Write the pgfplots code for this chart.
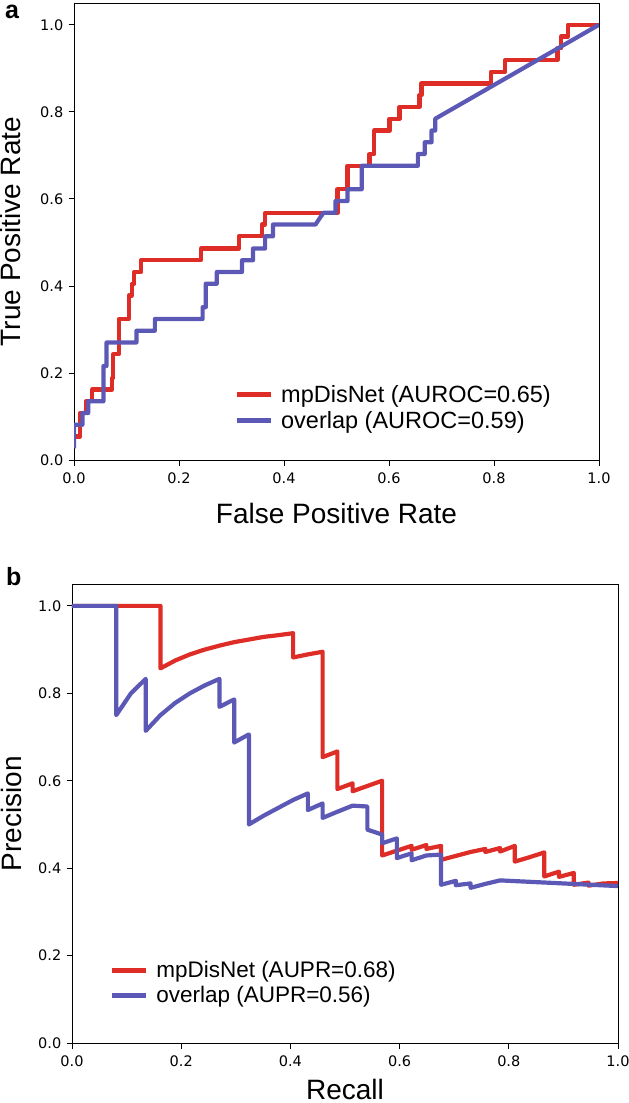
\documentclass[border=0pt]{standalone}
\usepackage{fontspec}
\setmainfont{Liberation Sans}
\newfontfamily\dejavu{DejaVu Sans}
\usepackage{pgfplots}
\pgfplotsset{compat=1.18}
\definecolor{cred}{RGB}{222,45,38}
\definecolor{cblue}{RGB}{92,88,182}

\begin{document}
\begin{tikzpicture}
\path[use as bounding box] (0pt,0pt) rectangle (629pt,-1103pt);
\pgfplotsset{
 myax/.style={scale only axis, xmin=0, xmax=1, ymin=0, ymax=1.05,
  xtick={0,0.2,0.4,0.6,0.8,1.0}, ytick={0,0.2,0.4,0.6,0.8,1.0},
  xtick pos=left, ytick pos=left,
  tick align=outside, major tick length=5.5pt,
  tick style={black, line width=0.8pt},
  axis line style={line width=0.8pt},
  /pgf/number format/fixed, /pgf/number format/fixed zerofill,
  /pgf/number format/precision=1, /pgf/number format/assume math mode=true,
  tick label style={font=\dejavu\fontsize{14.5}{16}\selectfont},
  xticklabel style={anchor=north, inner sep=0pt, yshift=-7pt},
  yticklabel style={anchor=east, inner sep=0pt, xshift=-5pt},
  label style={font=\fontsize{28}{32}\selectfont},
  legend style={draw=none, fill=none,
    cells={anchor=west}, nodes={inner sep=0pt}, column sep=8pt, row sep=7.5pt},
  legend image code/.code={\draw[##1, line width=5pt] (0pt,0pt) -- (34pt,0pt);},
  every axis plot/.append style={line width=4.2pt, line join=round},
 }
}

\begin{axis}[myax, at={(74pt,-460pt)}, anchor=south west, width=525pt, height=457pt,
  xlabel={False Positive Rate}, ylabel={True Positive Rate},
  xlabel style={at={(axis description cs:0.5,0)}, anchor=base, yshift=-63pt},
  ylabel style={at={(axis description cs:-0.101,0.5)}, anchor=base},
  legend style={at={(axis description cs:0.299,0.168)}, anchor=north west, font=\fontsize{23.5}{27}\selectfont}]
\addplot[cred] coordinates {(0,0.027)(0,0.054)(0.012,0.054)(0.012,0.108)(0.023,0.108)(0.023,0.135)(0.035,0.135)(0.035,0.162)(0.073,0.162)(0.073,0.189)(0.075,0.189)(0.075,0.243)(0.085,0.243)(0.085,0.324)(0.104,0.324)(0.104,0.378)(0.110,0.378)(0.110,0.405)(0.115,0.405)(0.115,0.432)(0.128,0.432)(0.128,0.459)(0.242,0.459)(0.242,0.486)(0.314,0.486)(0.314,0.514)(0.358,0.514)(0.358,0.541)(0.364,0.541)(0.364,0.568)(0.502,0.568)(0.502,0.622)(0.521,0.622)(0.521,0.676)(0.563,0.676)(0.563,0.703)(0.572,0.703)(0.572,0.757)(0.601,0.757)(0.601,0.784)(0.620,0.784)(0.620,0.811)(0.658,0.811)(0.658,0.838)(0.662,0.838)(0.662,0.865)(0.794,0.865)(0.794,0.892)(0.821,0.892)(0.821,0.919)(0.921,0.919)(0.921,0.946)(0.928,0.946)(0.928,0.973)(0.941,0.973)(0.941,1.0)(1,1)};
\addlegendentry{mpDisNet (AUROC=0.65)}
\addplot[cblue] coordinates {(0,0.027)(0,0.081)(0.016,0.081)(0.016,0.108)(0.027,0.108)(0.027,0.135)(0.056,0.135)(0.056,0.216)(0.062,0.216)(0.062,0.270)(0.119,0.270)(0.119,0.297)(0.154,0.297)(0.154,0.324)(0.245,0.324)(0.245,0.351)(0.251,0.351)(0.251,0.405)(0.272,0.405)(0.272,0.432)(0.320,0.432)(0.320,0.459)(0.341,0.459)(0.341,0.486)(0.364,0.486)(0.364,0.514)(0.379,0.514)(0.379,0.541)(0.460,0.541)(0.475,0.568)(0.498,0.568)(0.498,0.595)(0.521,0.595)(0.521,0.622)(0.548,0.622)(0.548,0.676)(0.655,0.676)(0.655,0.703)(0.668,0.703)(0.668,0.730)(0.681,0.730)(0.681,0.757)(0.688,0.757)(0.688,0.784)(1,1)};
\addlegendentry{overlap (AUROC=0.59)}
\end{axis}

\begin{axis}[myax, at={(72pt,-1043pt)}, anchor=south west, width=546pt, height=459pt,
  xlabel={Recall}, ylabel={Precision},
  xlabel style={at={(axis description cs:0.5,0)}, anchor=base, yshift=-56pt},
  ylabel style={at={(axis description cs:-0.0934,0.5)}, anchor=base},
  legend style={at={(axis description cs:0.0624,0.183)}, anchor=north west, font=\fontsize{22.5}{26}\selectfont}]
\addplot[cred] coordinates {(0,1)(0.162,1)(0.162,0.857)(0.189,0.875)(0.216,0.889)(0.243,0.9)(0.270,0.909)(0.297,0.917)(0.324,0.923)(0.351,0.929)(0.378,0.933)(0.405,0.9375)(0.405,0.882)(0.432,0.889)(0.459,0.895)(0.459,0.654)(0.486,0.667)(0.486,0.581)(0.514,0.594)(0.514,0.576)(0.541,0.588)(0.568,0.6)(0.568,0.429)(0.595,0.44)(0.622,0.451)(0.622,0.442)(0.649,0.453)(0.649,0.444)(0.676,0.451)(0.676,0.419)(0.703,0.428)(0.730,0.437)(0.757,0.444)(0.757,0.437)(0.784,0.446)(0.784,0.438)(0.811,0.451)(0.811,0.415)(0.838,0.425)(0.865,0.436)(0.865,0.381)(0.892,0.392)(0.892,0.380)(0.919,0.389)(0.919,0.362)(0.946,0.367)(0.946,0.360)(0.973,0.365)(1.0,0.366)};
\addlegendentry{mpDisNet (AUPR=0.68)}
\addplot[cblue] coordinates {(0,1)(0.081,1)(0.081,0.75)(0.108,0.8)(0.135,0.833)(0.135,0.714)(0.162,0.75)(0.189,0.778)(0.216,0.8)(0.243,0.818)(0.270,0.833)(0.270,0.769)(0.297,0.786)(0.297,0.6875)(0.324,0.706)(0.324,0.5)(0.351,0.52)(0.378,0.538)(0.405,0.556)(0.432,0.571)(0.432,0.533)(0.459,0.548)(0.459,0.515)(0.486,0.529)(0.514,0.543)(0.541,0.541)(0.541,0.488)(0.568,0.477)(0.568,0.457)(0.595,0.468)(0.595,0.423)(0.622,0.434)(0.622,0.418)(0.649,0.429)(0.676,0.431)(0.676,0.362)(0.703,0.371)(0.703,0.361)(0.730,0.365)(0.730,0.355)(0.757,0.364)(0.784,0.372)(1.0,0.359)};
\addlegendentry{overlap (AUPR=0.56)}
\end{axis}

\node[font=\bfseries\fontsize{25}{30}\selectfont, anchor=base west, inner sep=0pt] at (5pt,-18pt) {a};
\node[font=\bfseries\fontsize{25}{30}\selectfont, anchor=base west, inner sep=0pt] at (6pt,-585pt) {b};
\end{tikzpicture}
\end{document}
